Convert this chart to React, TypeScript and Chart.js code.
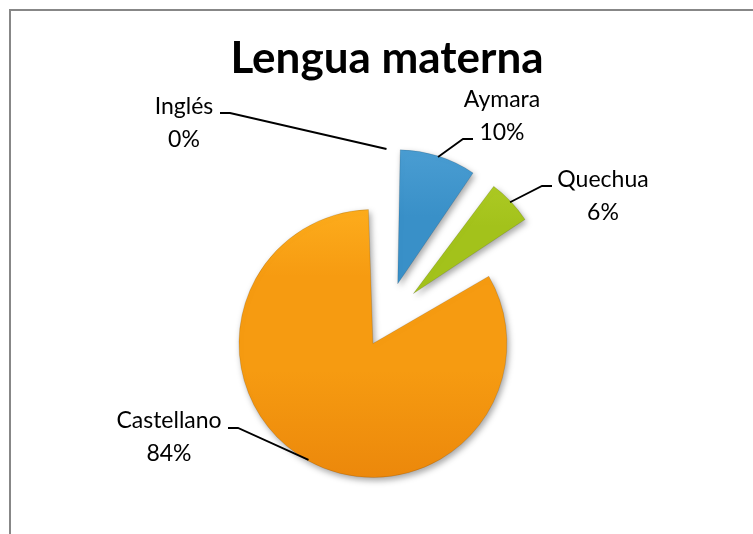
import React, { useEffect, useRef } from "react";
import { Chart, registerables } from "chart.js";

Chart.register(...registerables);

// ---- data ----
const categories = ["Aymara", "Quechua", "Castellano", "Inglés"];
const values = [9.8, 6.3, 83.9, 0];
const explode = [148, 148, 112, 148];
const topColors = ["#4A9DD2", "#B2CE28", "#FDAC1C", "#D06060"];
const midColors = ["#3990C8", "#A3C21B", "#F69B11", "#C0504D"];
const bottomColors = ["#2E7DB4", "#8EAB14", "#EC880B", "#A04040"];
const TITLE = "Lengua materna";

// ---- layout (not data) ----
const RADIUS = 134;
const labelLayout = [
  { cx: 502, y1: 107, y2: 140, tx: 473, ex: 463, ey: 139 },
  { cx: 603, y1: 187, y2: 220, tx: 552, ex: 542, ey: 186 },
  { cx: 169, y1: 428, y2: 461, tx: 228, ex: 238, ey: 428 },
  { cx: 184, y1: 114, y2: 147, tx: 220, ex: 230, ey: 113 },
];

const total = values.reduce((a, b) => a + b, 0);

const decor = {
  id: "decor",
  beforeDraw(chart: any) {
    const ctx = chart.ctx;
    ctx.save();
    ctx.fillStyle = "#ffffff";
    ctx.fillRect(0, 0, chart.width, chart.height);
    ctx.strokeStyle = "#878787";
    ctx.lineWidth = 2;
    ctx.beginPath();
    ctx.moveTo(10, chart.height);
    ctx.lineTo(10, 10);
    ctx.lineTo(chart.width, 10);
    ctx.stroke();
    ctx.restore();
  },
  beforeDatasetsDraw(chart: any) {
    const meta = chart.getDatasetMeta(0);
    meta.data.forEach((arc: any, i: number) => {
      const off = explode[i] / 4;
      const fix = 1 - Math.sin(Math.min(Math.PI, arc.circumference || 0));
      arc.outerRadius = RADIUS - off * fix;
    });
    const ctx = chart.ctx;
    ctx.save();
    ctx.shadowColor = "rgba(0,0,0,0.35)";
    ctx.shadowBlur = 6;
    ctx.shadowOffsetX = 2;
    ctx.shadowOffsetY = 3;
  },
  afterDatasetsDraw(chart: any) {
    const ctx = chart.ctx;
    ctx.restore();
    const meta = chart.getDatasetMeta(0);
    ctx.save();
    ctx.strokeStyle = "#000";
    ctx.lineWidth = 1.8;
    ctx.fillStyle = "#000";
    ctx.font = "23px Lato";
    ctx.textAlign = "center";
    ctx.textBaseline = "alphabetic";
    meta.data.forEach((arc: any, i: number) => {
      const L = labelLayout[i];
      const mid = (arc.startAngle + arc.endAngle) / 2;
      const off = explode[i] / 4;
      const r = RADIUS - 1;
      const px = arc.x + Math.cos(mid) * (off + r);
      const py = arc.y + Math.sin(mid) * (off + r);
      ctx.beginPath();
      ctx.moveTo(L.tx, L.ey);
      ctx.lineTo(L.ex, L.ey);
      ctx.lineTo(px, py);
      ctx.stroke();
      const pct = Math.round((values[i] / total) * 100);
      ctx.fillText(categories[i], L.cx, L.y1);
      ctx.fillText(pct + "%", L.cx, L.y2);
    });
    ctx.font = "bold 44px Lato";
    ctx.fillText(TITLE, 387, 73);
    ctx.restore();
  },
};

export default function App() {
  const ref = useRef<HTMLCanvasElement>(null);
  useEffect(() => {
    const canvas = ref.current!;
    const chart = new Chart(canvas, {
      type: "pie",
      data: {
        labels: categories,
        datasets: [
          {
            data: values,
            offset: explode,
            borderWidth: 1,
            borderColor: "rgba(0,0,0,0.12)",
            backgroundColor: (c: any) => {
              const i = c.dataIndex ?? 0;
              const chartRef = c.chart;
              const area = chartRef.chartArea;
              if (!area) return midColors[i];
              const cy = (area.top + area.bottom) / 2;
              const meta = chartRef.getDatasetMeta(0);
              const arc = meta && meta.data ? meta.data[i] : null;
              let ay = cy;
              if (arc && typeof arc.startAngle === "number") {
                const mid = (arc.startAngle + arc.endAngle) / 2;
                ay = cy + Math.sin(mid) * (explode[i] / 4);
              }
              const g = chartRef.ctx.createLinearGradient(0, ay - RADIUS, 0, ay + RADIUS);
              g.addColorStop(0, topColors[i]);
              g.addColorStop(0.25, midColors[i]);
              g.addColorStop(0.6, midColors[i]);
              g.addColorStop(1, bottomColors[i]);
              return g;
            },
          } as any,
        ],
      },
      options: {
        responsive: false,
        animation: false,
        events: [],
        radius: RADIUS,
        layout: { padding: { left: 20, right: 0, top: 104, bottom: 0 } },
        plugins: {
          legend: { display: false },
          title: { display: false },
          tooltip: { enabled: false },
        },
      } as any,
      plugins: [decor],
    });
    return () => chart.destroy();
  }, []);
  return (
    <div style={{ position: "fixed", left: 0, top: 0, width: 753, height: 534, background: "#fff" }}>
      <canvas ref={ref} width={753} height={534} style={{ display: "block", width: 753, height: 534 }} />
    </div>
  );
}
